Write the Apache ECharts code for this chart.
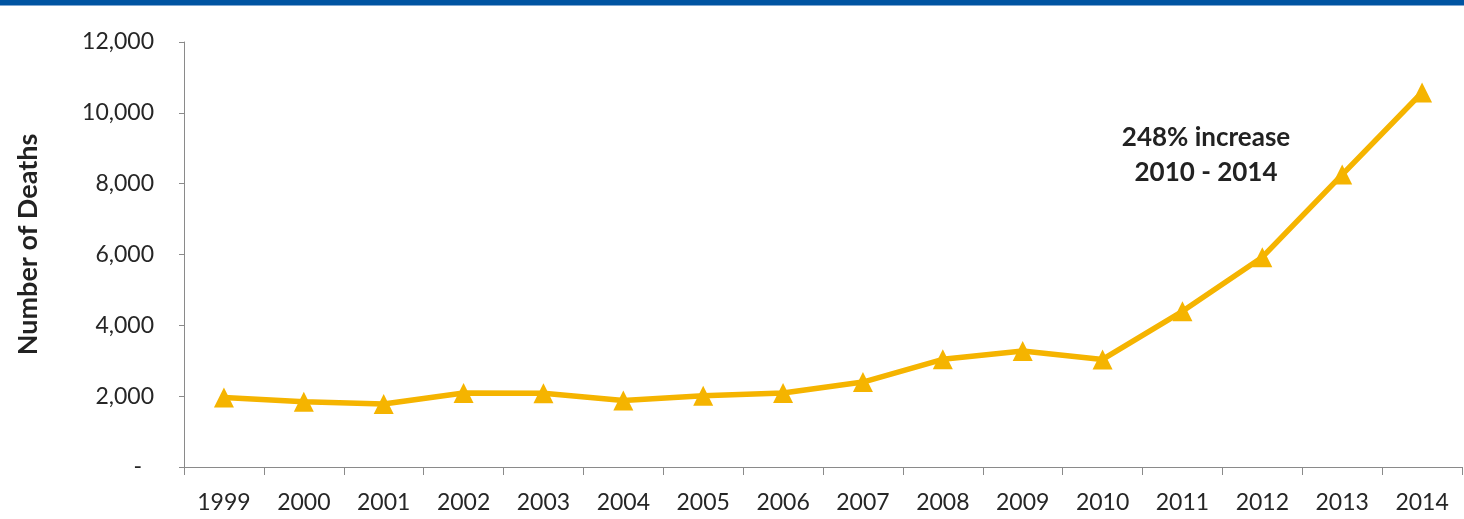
<!DOCTYPE html>
<html>
<head>
<meta charset="utf-8">
<script src="https://cdn.jsdelivr.net/npm/echarts@6/dist/echarts.min.js"></script>
<style>
  html, body { margin: 0; padding: 0; background: #ffffff; }
  #chart { width: 1464px; height: 519px; }
</style>
</head>
<body>
<div id="chart"></div>
<script>
// Heroin overdose deaths per year
const years = ['1999','2000','2001','2002','2003','2004','2005','2006','2007','2008','2009','2010','2011','2012','2013','2014'];
const deaths = [1960, 1842, 1779, 2089, 2080, 1878, 2009, 2088, 2399, 3041, 3278, 3036, 4397, 5925, 8257, 10574];
const yTicks = [0, 2000, 4000, 6000, 8000, 10000, 12000];
const noteLines = ['248% increase', '2010 - 2014'];

const FONT = 'Lato, "Open Sans", sans-serif';
const chart = echarts.init(document.getElementById('chart'));

chart.setOption({
  backgroundColor: '#ffffff',
  animation: false,
  grid: { left: 184, right: 2, top: 42, bottom: 52 },
  graphic: [
    // header band
    { type: 'rect', left: 0, top: 0, shape: { width: 1464, height: 5 }, style: { fill: '#0054a2' } },
    { type: 'rect', left: 0, top: 5, shape: { width: 1464, height: 1 }, style: { fill: '#7fa7d2' } },
    // growth note
    {
      type: 'text', x: 1206, y: 120,
      style: {
        text: noteLines.join('\n'), align: 'center', verticalAlign: 'top',
        font: 'bold 26px ' + FONT, lineHeight: 35, fill: '#222222'
      }
    }
  ],
  xAxis: {
    type: 'category',
    data: years,
    boundaryGap: true,
    axisLine: { lineStyle: { color: '#8a8a8a', width: 1 } },
    axisTick: { show: true, length: 8, lineStyle: { color: '#8a8a8a' } },
    axisLabel: { color: '#262626', fontFamily: FONT, fontSize: 23, margin: 24 }
  },
  yAxis: {
    type: 'value',
    min: yTicks[0],
    max: yTicks[yTicks.length - 1],
    interval: yTicks[1] - yTicks[0],
    name: 'Number of Deaths',
    nameLocation: 'middle',
    nameGap: 142,
    nameRotate: 90,
    nameTextStyle: { color: '#222222', fontFamily: FONT, fontSize: 27, fontWeight: 'bold', padding: [0, 0, 0, 20] },
    axisLine: { show: true, lineStyle: { color: '#8a8a8a', width: 1 } },
    axisTick: { show: true, length: 5, lineStyle: { color: '#8a8a8a' } },
    splitLine: { show: false },
    axisLabel: {
      color: '#262626', fontFamily: FONT, fontSize: 23, margin: 30,
      formatter: v => v === 0 ? '{d|-}' : v.toLocaleString('en-US'),
      rich: { d: { color: '#262626', fontFamily: FONT, fontSize: 23, padding: [0, 12, 0, 0] } }
    }
  },
  series: [{
    type: 'line',
    data: deaths,
    symbol: 'triangle',
    symbolSize: 20,
    lineStyle: { color: '#f5b400', width: 5.5 },
    itemStyle: { color: '#f5b400' }
  }]
});
</script>
</body>
</html>
